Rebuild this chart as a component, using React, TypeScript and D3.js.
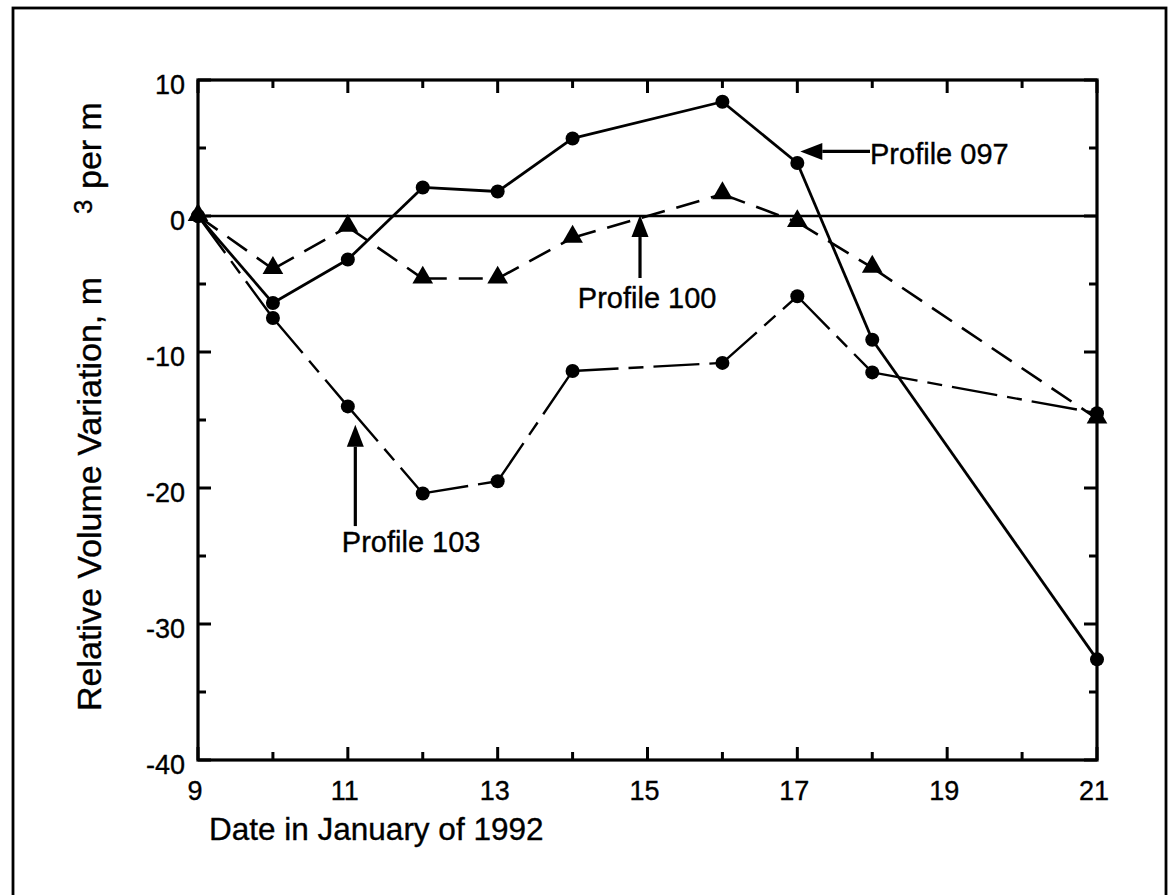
import React from "react";
import * as d3 from "d3";

// Survey dates (day of January 1992)
const days = [9, 10, 11, 12, 13, 14, 16, 17, 18, 21];

// Relative volume variation, m^3 per m
const profile097 = [0, -6.4, -3.2, 2.1, 1.8, 5.7, 8.4, 3.9, -9.1, -32.6];
const profile100 = [0, -3.9, -0.8, -4.6, -4.6, -1.6, 1.6, -0.45, -3.8, -14.9];
const profile103 = [0, -7.5, -14.0, -20.4, -19.5, -11.4, -10.8, -5.9, -11.5, -14.5];

const xMajorTicks = [9, 11, 13, 15, 17, 19, 21];
const xMinorTicks = [10, 12, 14, 16, 18, 20];
const yMajorTicks = [10, 0, -10, -20, -30, -40];
const yMinorTicks = [5, -5, -15, -25, -35];

const W = 1171;
const H = 895;
const FONT = "'Liberation Sans', Arial, Helvetica, sans-serif";

const x = d3.scaleLinear().domain([9, 21]).range([198, 1097]);
const y = d3.scaleLinear().domain([-40, 10]).range([760, 80]);

type Pt = [number, number];

function segments(values: number[]): [Pt, Pt][] {
  const pts: Pt[] = days.map((d, i) => [x(d), y(values[i])]);
  return d3.pairs(pts);
}

function Series({ values, dash, width }: { values: number[]; dash?: string; width: number }) {
  // each segment restarts its dash pattern at the left marker
  return (
    <g>
      {segments(values).map(([a, b], i) => (
        <line
          key={i}
          x1={a[0]}
          y1={a[1]}
          x2={b[0]}
          y2={b[1]}
          stroke="#000"
          strokeWidth={width}
          strokeDasharray={dash}
        />
      ))}
    </g>
  );
}

const triangle = d3.symbol().type(d3.symbolTriangle).size(185)() as string;

function Arrow({ x1, y1, x2, y2 }: { x1: number; y1: number; x2: number; y2: number }) {
  // shaft from (x1,y1) to the head, head tip at (x2,y2)
  const ang = Math.atan2(y2 - y1, x2 - x1);
  const len = 22;
  const half = 8.5;
  const bx = x2 - len * Math.cos(ang);
  const by = y2 - len * Math.sin(ang);
  const px = -Math.sin(ang) * half;
  const py = Math.cos(ang) * half;
  return (
    <g>
      <line x1={x1} y1={y1} x2={bx} y2={by} stroke="#000" strokeWidth={3.2} />
      <path d={`M${x2},${y2}L${bx + px},${by + py}L${bx - px},${by - py}Z`} fill="#000" />
    </g>
  );
}

const textStyle = { stroke: "#000", strokeWidth: 0.35 };

export default function App() {
  const [x0, x1] = x.range();
  const [yb, yt] = y.range();
  const majorLen = 13;
  const minorLen = 8;

  return (
    <svg
      width={W}
      height={H}
      viewBox={`0 0 ${W} ${H}`}
      style={{ position: "absolute", left: 0, top: 0, background: "#fff" }}
    >
      <rect x={0} y={0} width={W} height={H} fill="#fff" />
      {/* outer frame */}
      <rect x={13} y={8} width={1153} height={905} fill="none" stroke="#000" strokeWidth={2.8} />

      {/* zero reference line */}
      <line x1={x0} x2={x1} y1={y(0)} y2={y(0)} stroke="#000" strokeWidth={2.4} />

      {/* series lines */}
      <Series values={profile100} dash="24,12" width={2.6} />
      <Series values={profile103} dash="46,10,15,10" width={2.4} />
      <Series values={profile097} width={2.8} />

      {/* markers */}
      {days.map((d, i) => (
        <path key={"t" + i} d={triangle} transform={`translate(${x(d)},${y(profile100[i]) - 1})`} fill="#000" />
      ))}
      {days.map((d, i) => (
        <circle key={"c" + i} cx={x(d)} cy={y(profile103[i])} r={7} fill="#000" />
      ))}
      {days.map((d, i) => (
        <circle key={"k" + i} cx={x(d)} cy={y(profile097[i])} r={7} fill="#000" />
      ))}

      {/* plot frame */}
      <rect x={x0} y={yt} width={x1 - x0} height={yb - yt} fill="none" stroke="#000" strokeWidth={3.2} />

      {/* ticks, pointing inward on all four sides */}
      {xMajorTicks.map((t) => (
        <g key={"xm" + t}>
          <line x1={x(t)} x2={x(t)} y1={yb} y2={yb - majorLen} stroke="#000" strokeWidth={3} />
          <line x1={x(t)} x2={x(t)} y1={yt} y2={yt + majorLen} stroke="#000" strokeWidth={3} />
        </g>
      ))}
      {xMinorTicks.map((t) => (
        <g key={"xn" + t}>
          <line x1={x(t)} x2={x(t)} y1={yb} y2={yb - minorLen} stroke="#000" strokeWidth={3} />
          <line x1={x(t)} x2={x(t)} y1={yt} y2={yt + minorLen} stroke="#000" strokeWidth={3} />
        </g>
      ))}
      {yMajorTicks.map((t) => (
        <g key={"ym" + t}>
          <line x1={x0} x2={x0 + majorLen} y1={y(t)} y2={y(t)} stroke="#000" strokeWidth={3} />
          <line x1={x1} x2={x1 - majorLen} y1={y(t)} y2={y(t)} stroke="#000" strokeWidth={3} />
        </g>
      ))}
      {yMinorTicks.map((t) => (
        <g key={"yn" + t}>
          <line x1={x0} x2={x0 + minorLen} y1={y(t)} y2={y(t)} stroke="#000" strokeWidth={3} />
          <line x1={x1} x2={x1 - minorLen} y1={y(t)} y2={y(t)} stroke="#000" strokeWidth={3} />
        </g>
      ))}

      {/* tick labels */}
      {xMajorTicks.map((t) => (
        <text key={"xl" + t} x={x(t) - 3} y={800} fontSize={27} fontFamily={FONT} textAnchor="middle" style={textStyle}>
          {t}
        </text>
      ))}
      {yMajorTicks.map((t) => (
        <text key={"yl" + t} x={185} y={y(t) + 14} fontSize={27} fontFamily={FONT} textAnchor="end" style={textStyle}>
          {t}
        </text>
      ))}

      {/* axis titles */}
      <text x={209} y={840} fontSize={31.5} fontFamily={FONT} style={textStyle}>
        Date in January of 1992
      </text>
      <text transform="translate(101,711) rotate(-90)" fontSize={34} fontFamily={FONT} style={textStyle}>
        Relative Volume Variation, m
      </text>
      <text transform="translate(92,214) rotate(-90)" fontSize={26} fontFamily={FONT} style={textStyle}>
        3
      </text>
      <text transform="translate(101,189) rotate(-90)" fontSize={34} fontFamily={FONT} style={textStyle}>
        per m
      </text>

      {/* annotations */}
      <Arrow x1={x(17.97)} y1={y(4.75)} x2={x(17.04)} y2={y(4.75)} />
      <text x={x(17.97)} y={y(3.82)} fontSize={29} fontFamily={FONT} style={textStyle}>
        Profile 097
      </text>

      <Arrow x1={x(14.9)} y1={y(-4.56)} x2={x(14.9)} y2={y(0.07)} />
      <text x={x(14.07)} y={y(-6.76)} fontSize={29} fontFamily={FONT} style={textStyle}>
        Profile 100
      </text>

      <Arrow x1={x(11.1)} y1={y(-22.8)} x2={x(11.1)} y2={y(-15.35)} />
      <text x={x(10.92)} y={y(-24.7)} fontSize={29} fontFamily={FONT} style={textStyle}>
        Profile 103
      </text>
    </svg>
  );
}
